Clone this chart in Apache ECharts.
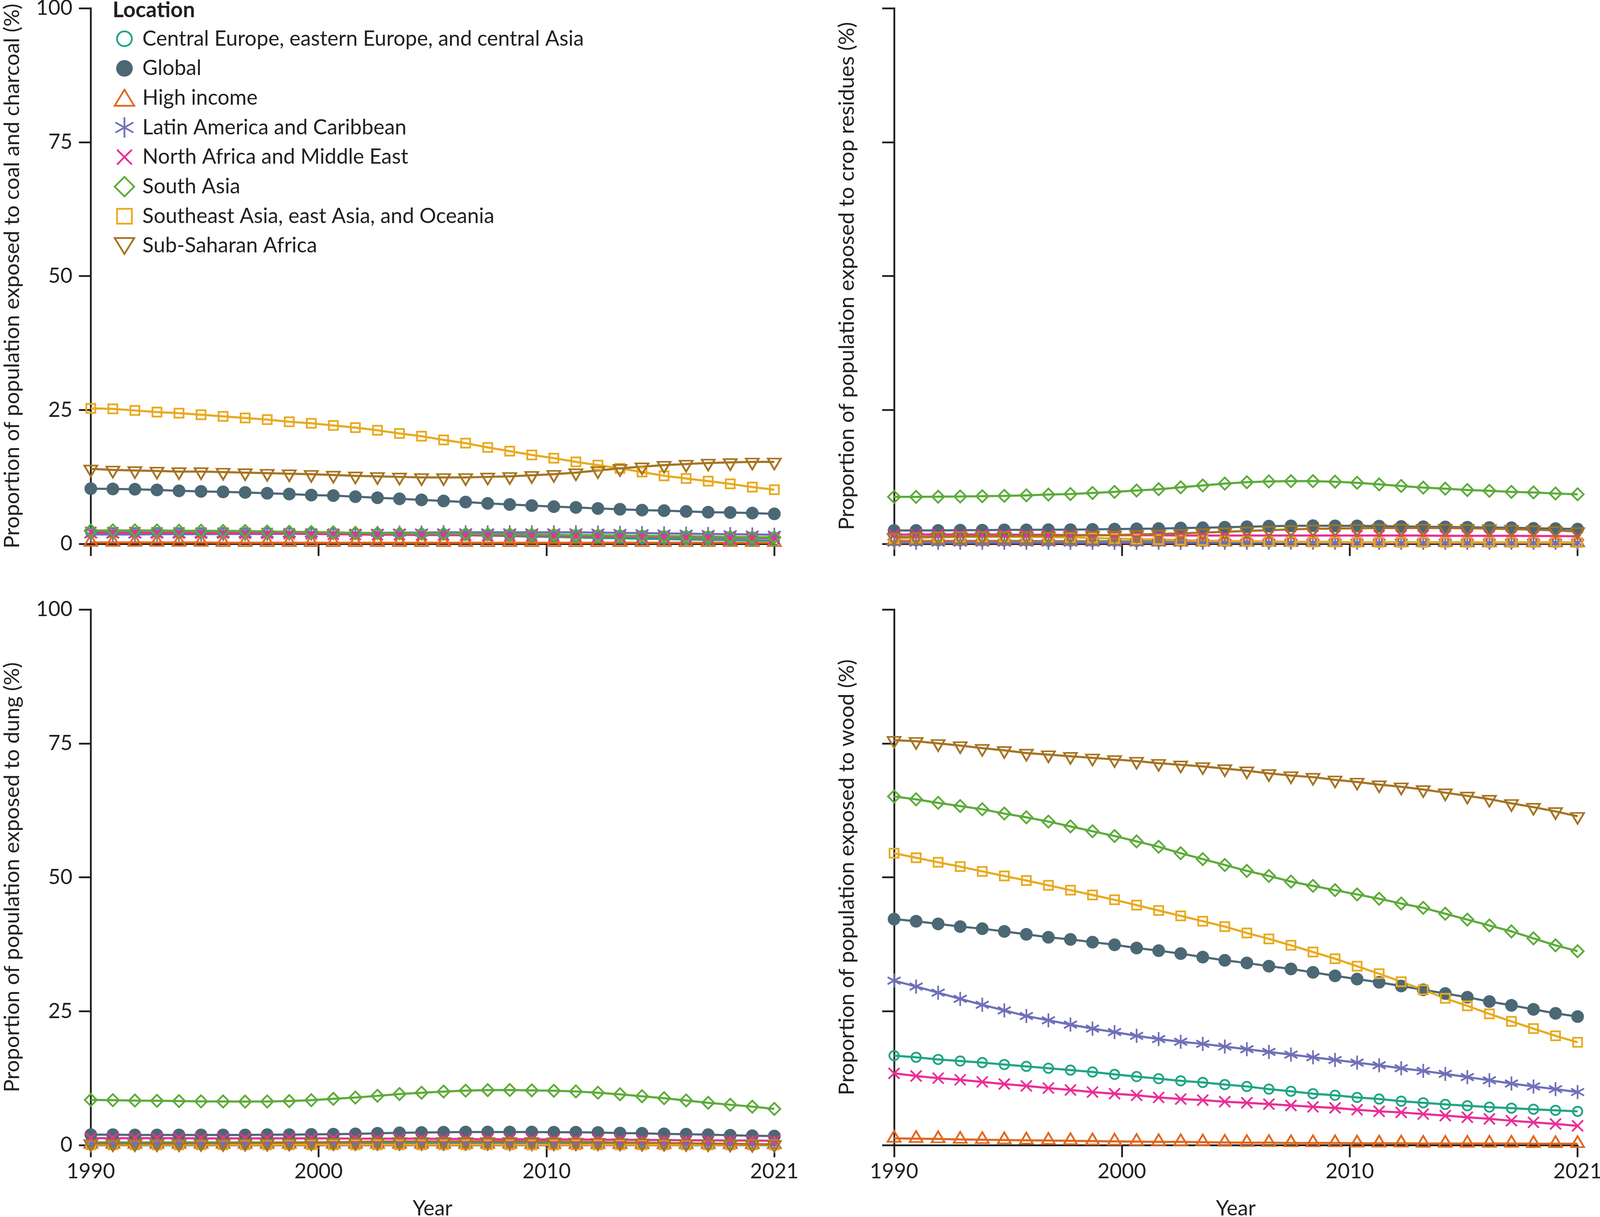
<!DOCTYPE html>
<html>

<head>
    <meta charset="utf-8">
    <title>Proportion of population exposed to household air pollution by fuel</title>
    <script src="https://cdn.jsdelivr.net/npm/echarts@6/dist/echarts.min.js"></script>
    <style>
        html, body { margin: 0; padding: 0; background: #fff; }
        #chart { width: 100%; height: 100vh; }
    </style>
</head>

<body>
    <div id="chart"></div>
    <script>
        var years = [];
        for (var y = 1990; y <= 2021; y++) years.push(y);

        // ticks are evenly spread in the original, not placed on the true years
        var xTickSpots = [1990, 2000.33, 2010.67, 2021];
        var xTickLabels = ['1990', '2000', '2010', '2021'];
        var yTicks = [0, 25, 50, 75, 100];

        var locations = ['Central Europe, eastern Europe, and central Asia', 'Global', 'High income', 'Latin America and Caribbean', 'North Africa and Middle East', 'South Asia', 'Southeast Asia, east Asia, and Oceania', 'Sub-Saharan Africa'];
        var colors = ['#1fa584', '#4c6875', '#e0681f', '#6f70b8', '#e92f96', '#5dab39', '#e8aa20', '#a57422'];
        var panelNames = ['Proportion of population exposed to coal and charcoal (%)', 'Proportion of population exposed to crop residues (%)', 'Proportion of population exposed to dung (%)', 'Proportion of population exposed to wood (%)'];

        // coal and charcoal
        var coalCentral = [2.1, 2.1, 2.1, 2.1, 2.05, 2.05, 2.05, 2.0, 2.0, 2.0, 1.95, 1.9, 1.9, 1.85, 1.85, 1.8, 1.7, 1.6, 1.55, 1.45, 1.35, 1.3, 1.2, 1.1, 1.05, 0.95, 0.9, 0.8, 0.75, 0.7, 0.65, 0.6];
        var coalGlobal = [10.3, 10.25, 10.2, 10.06, 9.9, 9.8, 9.7, 9.6, 9.45, 9.3, 9.1, 9.0, 8.8, 8.6, 8.4, 8.2, 8.0, 7.8, 7.55, 7.35, 7.15, 6.95, 6.8, 6.6, 6.45, 6.3, 6.2, 6.05, 5.9, 5.85, 5.75, 5.6];
        var coalHigh = [0.25, 0.25, 0.25, 0.25, 0.25, 0.25, 0.2, 0.2, 0.2, 0.2, 0.2, 0.2, 0.2, 0.2, 0.2, 0.2, 0.2, 0.2, 0.2, 0.2, 0.2, 0.2, 0.2, 0.2, 0.2, 0.2, 0.2, 0.2, 0.2, 0.2, 0.2, 0.2];
        var coalLatin = [1.75, 1.75, 1.75, 1.8, 1.8, 1.8, 1.85, 1.85, 1.85, 1.9, 1.9, 2.0, 2.0, 2.05, 2.1, 2.1, 2.15, 2.15, 2.15, 2.15, 2.15, 2.15, 2.15, 2.1, 2.05, 2.0, 1.95, 1.9, 1.85, 1.8, 1.75, 1.7];
        var coalNorth = [2.15, 2.1, 2.1, 2.05, 2.05, 2.0, 2.0, 1.95, 1.95, 1.9, 1.85, 1.8, 1.75, 1.7, 1.7, 1.65, 1.65, 1.6, 1.55, 1.55, 1.5, 1.5, 1.45, 1.4, 1.35, 1.3, 1.25, 1.2, 1.15, 1.1, 1.1, 1.05];
        var coalSouth = [2.5, 2.5, 2.5, 2.5, 2.45, 2.45, 2.4, 2.4, 2.3, 2.25, 2.2, 2.15, 2.05, 2.0, 1.95, 1.9, 1.9, 1.85, 1.8, 1.8, 1.75, 1.7, 1.65, 1.6, 1.55, 1.5, 1.45, 1.4, 1.35, 1.3, 1.25, 1.2];
        var coalEast = [25.3, 25.2, 24.9, 24.6, 24.4, 24.1, 23.8, 23.5, 23.2, 22.8, 22.5, 22.1, 21.7, 21.2, 20.6, 20.1, 19.4, 18.8, 18.0, 17.3, 16.6, 16.0, 15.3, 14.7, 14.1, 13.4, 12.7, 12.2, 11.7, 11.2, 10.6, 10.1];
        var coalAfrica = [14.0, 13.8, 13.7, 13.6, 13.5, 13.5, 13.4, 13.3, 13.2, 13.1, 13.0, 12.85, 12.7, 12.6, 12.5, 12.4, 12.4, 12.4, 12.5, 12.6, 12.8, 13.0, 13.3, 13.7, 14.1, 14.4, 14.7, 14.9, 15.1, 15.2, 15.3, 15.3];

        // crop residues
        var cropCentral = [0.55, 0.55, 0.55, 0.55, 0.55, 0.55, 0.55, 0.5, 0.5, 0.5, 0.5, 0.45, 0.45, 0.45, 0.4, 0.4, 0.4, 0.35, 0.35, 0.35, 0.35, 0.3, 0.3, 0.3, 0.3, 0.3, 0.3, 0.25, 0.25, 0.25, 0.25, 0.25];
        var cropGlobal = [2.5, 2.5, 2.5, 2.55, 2.55, 2.6, 2.6, 2.65, 2.65, 2.7, 2.75, 2.8, 2.85, 2.95, 3.0, 3.1, 3.2, 3.3, 3.35, 3.4, 3.35, 3.35, 3.3, 3.25, 3.2, 3.15, 3.1, 3.05, 3.0, 2.9, 2.85, 2.75];
        var cropHigh = [0.5, 0.5, 0.5, 0.45, 0.45, 0.45, 0.4, 0.4, 0.4, 0.35, 0.35, 0.35, 0.3, 0.3, 0.3, 0.3, 0.25, 0.25, 0.25, 0.25, 0.2, 0.2, 0.2, 0.2, 0.2, 0.2, 0.15, 0.15, 0.15, 0.15, 0.15, 0.15];
        var cropLatin = [0.2, 0.2, 0.2, 0.2, 0.2, 0.2, 0.2, 0.2, 0.2, 0.2, 0.2, 0.2, 0.2, 0.2, 0.2, 0.2, 0.2, 0.2, 0.2, 0.2, 0.2, 0.2, 0.2, 0.2, 0.2, 0.2, 0.2, 0.2, 0.2, 0.2, 0.2, 0.2];
        var cropNorth = [1.7, 1.75, 1.75, 1.75, 1.75, 1.75, 1.7, 1.7, 1.65, 1.65, 1.6, 1.6, 1.6, 1.55, 1.55, 1.55, 1.55, 1.55, 1.55, 1.55, 1.55, 1.55, 1.55, 1.55, 1.55, 1.5, 1.5, 1.5, 1.5, 1.45, 1.45, 1.4];
        var cropSouth = [8.77, 8.77, 8.8, 8.84, 8.89, 8.96, 9.05, 9.2, 9.3, 9.5, 9.7, 9.95, 10.2, 10.55, 10.9, 11.25, 11.5, 11.65, 11.7, 11.7, 11.6, 11.4, 11.1, 10.8, 10.5, 10.3, 10.05, 9.9, 9.7, 9.6, 9.4, 9.25];
        var cropEast = [1.0, 1.1, 1.2, 1.25, 1.3, 1.3, 1.3, 1.25, 1.2, 1.1, 1.0, 0.9, 0.8, 0.7, 0.6, 0.55, 0.5, 0.45, 0.4, 0.35, 0.35, 0.3, 0.3, 0.3, 0.3, 0.3, 0.3, 0.3, 0.3, 0.3, 0.3, 0.25];
        var cropAfrica = [1.25, 1.3, 1.35, 1.4, 1.45, 1.45, 1.5, 1.5, 1.55, 1.6, 1.65, 1.75, 1.85, 1.95, 2.1, 2.25, 2.4, 2.55, 2.7, 2.8, 2.85, 2.9, 2.95, 2.95, 2.95, 2.95, 2.9, 2.85, 2.75, 2.65, 2.5, 2.3];

        // dung
        var dungCentral = [0.5, 0.5, 0.5, 0.5, 0.5, 0.5, 0.5, 0.5, 0.5, 0.5, 0.5, 0.5, 0.5, 0.5, 0.5, 0.5, 0.5, 0.5, 0.45, 0.45, 0.45, 0.4, 0.4, 0.35, 0.3, 0.25, 0.2, 0.2, 0.15, 0.15, 0.1, 0.1];
        var dungGlobal = [1.95, 1.95, 1.9, 1.9, 1.9, 1.9, 1.9, 1.9, 1.95, 1.95, 2.0, 2.05, 2.1, 2.2, 2.3, 2.35, 2.4, 2.45, 2.45, 2.45, 2.45, 2.4, 2.4, 2.35, 2.25, 2.2, 2.1, 2.05, 1.95, 1.85, 1.75, 1.7];
        var dungHigh = [0.1, 0.1, 0.1, 0.1, 0.1, 0.1, 0.1, 0.1, 0.1, 0.1, 0.1, 0.1, 0.1, 0.1, 0.1, 0.1, 0.1, 0.1, 0.1, 0.1, 0.05, 0.05, 0.05, 0.05, 0.05, 0.05, 0.05, 0.05, 0.05, 0.05, 0.05, 0.05];
        var dungLatin = [0.2, 0.2, 0.2, 0.2, 0.2, 0.2, 0.2, 0.2, 0.2, 0.2, 0.2, 0.2, 0.2, 0.2, 0.2, 0.2, 0.2, 0.2, 0.2, 0.15, 0.15, 0.15, 0.15, 0.15, 0.15, 0.1, 0.1, 0.1, 0.1, 0.1, 0.1, 0.1];
        var dungNorth = [1.3, 1.3, 1.3, 1.3, 1.3, 1.25, 1.25, 1.25, 1.25, 1.25, 1.25, 1.25, 1.2, 1.2, 1.2, 1.2, 1.15, 1.15, 1.1, 1.1, 1.1, 1.05, 1.05, 1.0, 1.0, 0.95, 0.95, 0.9, 0.9, 0.85, 0.85, 0.8];
        var dungSouth = [8.44, 8.39, 8.32, 8.27, 8.22, 8.17, 8.15, 8.13, 8.15, 8.22, 8.39, 8.64, 8.88, 9.2, 9.54, 9.78, 10.0, 10.17, 10.27, 10.29, 10.22, 10.15, 10.02, 9.78, 9.49, 9.12, 8.76, 8.34, 7.9, 7.54, 7.18, 6.76];
        var dungEast = [0.05, 0.05, 0.05, 0.05, 0.05, 0.05, 0.05, 0.05, 0.05, 0.05, 0.05, 0.05, 0.05, 0.05, 0.05, 0.05, 0.05, 0.05, 0.05, 0.05, 0.03, 0.03, 0.03, 0.03, 0.03, 0.03, 0.03, 0.03, 0.03, 0.03, 0.03, 0.03];
        var dungAfrica = [0.3, 0.3, 0.3, 0.3, 0.3, 0.35, 0.35, 0.4, 0.4, 0.45, 0.5, 0.55, 0.6, 0.65, 0.7, 0.7, 0.7, 0.7, 0.7, 0.7, 0.7, 0.65, 0.6, 0.55, 0.5, 0.45, 0.4, 0.35, 0.3, 0.25, 0.2, 0.15];

        // wood
        var woodCentral = [16.7, 16.4, 16.0, 15.7, 15.4, 15.05, 14.7, 14.35, 14.0, 13.65, 13.2, 12.8, 12.4, 12.0, 11.7, 11.3, 10.95, 10.45, 10.05, 9.6, 9.3, 8.9, 8.6, 8.2, 7.9, 7.6, 7.35, 7.1, 6.9, 6.7, 6.5, 6.3];
        var woodGlobal = [42.2, 41.8, 41.3, 40.8, 40.4, 39.9, 39.35, 38.8, 38.4, 37.9, 37.4, 36.8, 36.3, 35.75, 35.1, 34.5, 34.0, 33.4, 32.9, 32.25, 31.6, 31.0, 30.4, 29.7, 29.0, 28.3, 27.6, 26.8, 26.1, 25.35, 24.6, 24.0];
        var woodHigh = [1.25, 1.2, 1.15, 1.05, 1.0, 0.95, 0.9, 0.85, 0.8, 0.75, 0.7, 0.65, 0.6, 0.6, 0.55, 0.5, 0.45, 0.45, 0.4, 0.4, 0.4, 0.35, 0.35, 0.35, 0.3, 0.3, 0.3, 0.3, 0.3, 0.25, 0.25, 0.25];
        var woodLatin = [30.7, 29.6, 28.45, 27.3, 26.2, 25.15, 24.1, 23.3, 22.5, 21.75, 21.1, 20.4, 19.8, 19.3, 18.9, 18.4, 17.9, 17.4, 16.9, 16.4, 15.9, 15.4, 14.9, 14.35, 13.85, 13.3, 12.7, 12.1, 11.5, 10.95, 10.45, 9.9];
        var woodNorth = [13.4, 12.9, 12.5, 12.2, 11.8, 11.4, 11.05, 10.65, 10.3, 9.9, 9.6, 9.3, 8.9, 8.6, 8.4, 8.1, 7.9, 7.65, 7.4, 7.15, 6.95, 6.6, 6.3, 6.1, 5.8, 5.5, 5.2, 4.9, 4.55, 4.25, 3.95, 3.6];
        var woodSouth = [65.1, 64.55, 63.9, 63.3, 62.7, 61.9, 61.2, 60.4, 59.5, 58.6, 57.7, 56.7, 55.7, 54.5, 53.4, 52.3, 51.2, 50.25, 49.2, 48.4, 47.6, 46.8, 46.0, 45.1, 44.3, 43.2, 42.1, 41.0, 39.9, 38.6, 37.3, 36.2];
        var woodEast = [54.5, 53.65, 52.8, 52.0, 51.1, 50.25, 49.4, 48.5, 47.6, 46.7, 45.8, 44.8, 43.8, 42.8, 41.8, 40.8, 39.6, 38.5, 37.3, 36.05, 34.8, 33.4, 32.0, 30.5, 29.0, 27.4, 26.0, 24.5, 23.1, 21.75, 20.4, 19.2];
        var woodAfrica = [75.6, 75.4, 75.0, 74.6, 74.1, 73.7, 73.2, 72.9, 72.6, 72.3, 72.0, 71.7, 71.3, 71.0, 70.7, 70.3, 69.9, 69.4, 69.0, 68.7, 68.2, 67.8, 67.3, 66.9, 66.4, 65.8, 65.2, 64.6, 63.8, 63.1, 62.3, 61.4];

        var panels = [
            [coalCentral, coalGlobal, coalHigh, coalLatin, coalNorth, coalSouth, coalEast, coalAfrica],
            [cropCentral, cropGlobal, cropHigh, cropLatin, cropNorth, cropSouth, cropEast, cropAfrica],
            [dungCentral, dungGlobal, dungHigh, dungLatin, dungNorth, dungSouth, dungEast, dungAfrica],
            [woodCentral, woodGlobal, woodHigh, woodLatin, woodNorth, woodSouth, woodEast, woodAfrica]
        ];

        var fontName = 'Lato, "Open Sans", sans-serif';
        var fontSize = 53.5;
        var nameSize = 55;
        var textColor = '#231f20';
        var axisColor = '#1c1a1b';

        var asterisk = 'path://M17 0L17 36M1 9L33 27M1 27L33 9';
        var cross = 'path://M0 0L28 28M0 28L28 0';
        var markers = [
            { symbol: 'circle', size: 24 },
            { symbol: 'circle', size: 28, filled: true },
            { symbol: 'triangle', size: [33, 28], offset: [0, -5.5] },
            { symbol: asterisk, size: [33, 36] },
            { symbol: cross, size: [28, 28] },
            { symbol: 'diamond', size: [31, 31] },
            { symbol: 'rect', size: [23, 23] },
            { symbol: 'path://M0 0L33 0L16.5 28Z', size: [33, 28], offset: [0, 5.5] }
        ];
        // bigger markers in the key, the leading moves keep each box 52 wide
        var legendIcons = [
            'path://M0 0M52 52M7 26A19 19 0 1 1 45 26A19 19 0 1 1 7 26Z',
            'path://M0 0M52 52M7 26A19 19 0 1 1 45 26A19 19 0 1 1 7 26Z',
            'path://M0 0M52 52M1 46L26 5L51 46Z',
            'path://M0 0M52 52M26 0L26 52M3 13L49 39M3 39L49 13',
            'path://M0 0M52 52M7 7L45 45M7 45L45 7',
            'path://M0 0M52 52M26 1L51 26L26 51L1 26Z',
            'path://M0 0M52 52M7 7L45 7L45 45L7 45Z',
            'path://M0 0M52 52M1 6L51 6L26 47Z'
        ];

        var myChart = echarts.init(document.getElementById('chart'), null, { renderer: 'canvas' });
        // the window can come out narrower than the 4176 of the original, keep proportions
        var xScale = myChart.getWidth() / 4176;

        var gridLefts = [237, 2333.5, 237, 2333.5];
        var gridTops = [21, 21, 1560, 1560];
        var grids = [], xAxes = [], yAxes = [], series = [];

        for (var p = 0; p < 4; p++) {
            var isBottom = p >= 2;
            var isLeft = p % 2 === 0;
            grids.push({ left: gridLefts[p] * xScale, top: gridTops[p], width: 1784 * xScale, height: 1371, outerBoundsMode: 'none' });
            xAxes.push({
                type: 'value',
                gridIndex: p,
                min: 1990,
                max: 2021,
                name: isBottom ? 'Year' : '',
                nameLocation: 'middle',
                nameGap: 136,
                nameTextStyle: { fontFamily: fontName, fontSize: fontSize, color: textColor },
                splitLine: { show: false },
                axisLine: { lineStyle: { color: axisColor, width: 4.5 } },
                axisTick: { length: 31, lineStyle: { color: axisColor, width: 4.5 }, customValues: xTickSpots },
                axisLabel: {
                    show: isBottom,
                    margin: 41,
                    customValues: xTickSpots,
                    fontFamily: fontName,
                    fontSize: fontSize,
                    color: textColor,
                    formatter: function (value) {
                        return xTickLabels[xTickSpots.indexOf(value)];
                    }
                }
            });
            yAxes.push({
                type: 'value',
                gridIndex: p,
                min: 0,
                max: 100,
                interval: yTicks[1] - yTicks[0],
                name: panelNames[p],
                nameLocation: 'middle',
                nameGap: isLeft ? 173.5 : 93.5,
                nameTextStyle: { fontFamily: fontName, fontSize: nameSize, color: textColor },
                splitLine: { show: false },
                axisLine: { show: true, lineStyle: { color: axisColor, width: 4.5 } },
                axisTick: { show: true, length: 31 * xScale, lineStyle: { color: axisColor, width: 4.5 } },
                axisLabel: { show: isLeft, margin: 47, fontFamily: fontName, fontSize: fontSize, color: textColor }
            });
            for (var s = 0; s < locations.length; s++) {
                (function (values, m, s) {
                    series.push({
                        name: locations[s],
                        type: 'line',
                        xAxisIndex: p,
                        yAxisIndex: p,
                        clip: false,
                        data: years.map(function (year, i) { return [year, values[i]]; }),
                        symbol: m.symbol,
                        symbolSize: m.size,
                        symbolOffset: m.offset || [0, 0],
                        showAllSymbol: true,
                        lineStyle: { color: colors[s], width: 5.5 },
                        itemStyle: {
                            color: m.filled ? colors[s] : 'rgba(255,255,255,0)',
                            borderColor: colors[s],
                            borderWidth: 4.5
                        },
                        emphasis: { disabled: true }
                    });
                })(panels[p][s], markers[s], s);
            }
        }

        myChart.setOption({
            animation: false,
            backgroundColor: '#fff',
            title: {
                text: 'Location',
                left: 294 * xScale - 5,
                top: -6,
                textStyle: { fontFamily: fontName, fontSize: 55, fontWeight: 'bold', color: textColor }
            },
            legend: {
                orient: 'vertical',
                left: 296 * xScale - 5,
                top: 66,
                itemWidth: 52,
                itemHeight: 52,
                itemGap: 19.2,
                selectedMode: false,
                itemStyle: { borderWidth: 4.5 },
                textStyle: { fontFamily: fontName, fontSize: fontSize, color: textColor, padding: [0, 0, 0, 15] },
                data: locations.map(function (name, i) {
                    return { name: name, icon: legendIcons[i] };
                })
            },
            grid: grids,
            xAxis: xAxes,
            yAxis: yAxes,
            series: series
        });
    </script>
</body>

</html>
